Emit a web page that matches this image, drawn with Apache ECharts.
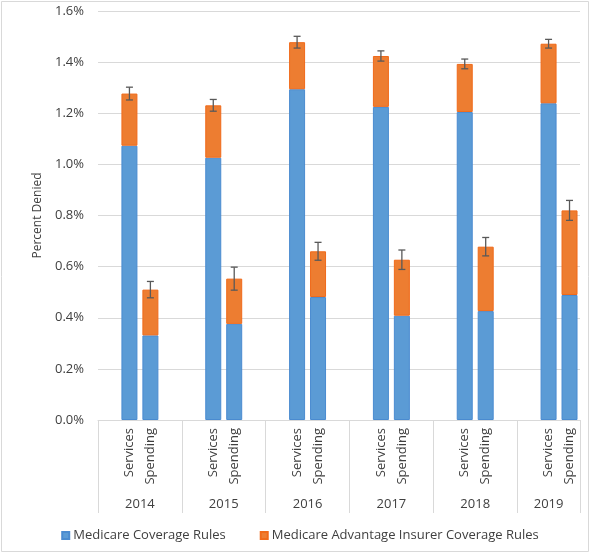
<!DOCTYPE html>
<html>
<head>
<meta charset="utf-8">
<script src="https://cdn.jsdelivr.net/npm/echarts@6/dist/echarts.min.js"></script>
<style>
html,body{margin:0;padding:0;background:#fff;}
#chart{width:600px;height:554px;}
</style>
</head>
<body>
<div id="chart"></div>
<script>
// ---- data (percent) ----
const years = ['2014', '2015', '2016', '2017', '2018', '2019'];
const measures = ['Services', 'Spending'];
const servicesMedicare = [1.073, 1.026, 1.294, 1.225, 1.205, 1.239];
const servicesAdvantage = [0.204, 0.205, 0.184, 0.199, 0.188, 0.233];
const servicesError = [0.025, 0.023, 0.023, 0.020, 0.019, 0.017];
const spendingMedicare = [0.331, 0.376, 0.481, 0.408, 0.426, 0.489];
const spendingAdvantage = [0.179, 0.177, 0.179, 0.219, 0.252, 0.331];
const spendingError = [0.032, 0.045, 0.035, 0.038, 0.036, 0.039];
const yTicks = [0, 0.2, 0.4, 0.6, 0.8, 1.0, 1.2, 1.4, 1.6];
const seriesNames = ['Medicare Coverage Rules', 'Medicare Advantage Insurer Coverage Rules'];

// ---- build slots: each year = blank, Services, Spending, blank (last year without trailing blank) ----
const cats = [], medData = [], advData = [], errData = [], groupStarts = [], groupLens = [];
years.forEach((y, i) => {
  const start = cats.length;
  groupStarts.push(start);
  cats.push(''); medData.push(null); advData.push(null);
  cats.push(measures[0]); medData.push(servicesMedicare[i]); advData.push(servicesAdvantage[i]);
  errData.push([cats.length - 1, servicesMedicare[i] + servicesAdvantage[i] - servicesError[i], servicesMedicare[i] + servicesAdvantage[i] + servicesError[i]]);
  cats.push(measures[1]); medData.push(spendingMedicare[i]); advData.push(spendingAdvantage[i]);
  errData.push([cats.length - 1, spendingMedicare[i] + spendingAdvantage[i] - spendingError[i], spendingMedicare[i] + spendingAdvantage[i] + spendingError[i]]);
  if (i < years.length - 1) { cats.push(''); medData.push(null); advData.push(null); }
  groupLens.push(cats.length - start);
});
// year labels on a half-slot point axis
const yearLabels = new Array(cats.length * 2 + 1).fill('');
years.forEach((y, i) => { yearLabels[(groupStarts[i] * 2) + groupLens[i]] = y; });

const txt = '#404040';
const font = 'Open Sans';
const chart = echarts.init(document.getElementById('chart'), null, {renderer: 'canvas'});
chart.setOption({
  animation: false,
  backgroundColor: '#fff',
  textStyle: {fontFamily: font, color: txt},
  graphic: [{
    type: 'rect', shape: {x: 1.5, y: 1.5, width: 587, height: 550},
    style: {fill: 'none', stroke: '#d9d9d9', lineWidth: 1}, silent: true, z: -1
  }],
  grid: {left: 98, right: 20, top: 11, bottom: 134},
  legend: {
    data: seriesNames, top: 524, left: 'center',
    itemWidth: 7, itemHeight: 7, itemGap: 34, icon: 'rect',
    textStyle: {fontFamily: font, fontSize: 13, color: txt, padding: [0, 0, 0, -1]}
  },
  xAxis: [{
    type: 'category', data: cats, boundaryGap: true,
    axisLine: {show: true, lineStyle: {color: '#d9d9d9', width: 1}},
    axisTick: {show: true, length: 93, lineStyle: {color: '#d9d9d9'},
      interval: (idx) => groupStarts.indexOf(idx) >= 0},
    axisLabel: {interval: 0, rotate: 90, margin: 8, fontSize: 13, color: txt, fontFamily: font}
  }, {
    type: 'category', data: yearLabels, boundaryGap: false, position: 'bottom',
    axisLine: {show: false}, axisTick: {show: false},
    axisLabel: {interval: 0, margin: 78, fontSize: 13, color: txt, fontFamily: font}
  }],
  yAxis: {
    type: 'value', min: yTicks[0], max: yTicks[yTicks.length - 1], interval: 0.2,
    name: 'Percent Denied', nameLocation: 'middle', nameGap: 50, nameRotate: 90,
    nameTextStyle: {fontSize: 12, color: txt, fontFamily: font},
    axisLine: {show: false}, axisTick: {show: false},
    axisLabel: {formatter: v => v.toFixed(1) + '%', fontSize: 13, color: txt, margin: 14, fontFamily: font},
    splitLine: {lineStyle: {color: '#d9d9d9', width: 1}}
  },
  series: [{
    name: seriesNames[0], type: 'bar', stack: 'total', data: medData, barWidth: 16,
    itemStyle: {color: '#5B9BD5', borderColor: '#4A8BD0', borderWidth: 1}
  }, {
    name: seriesNames[1], type: 'bar', stack: 'total', data: advData, barWidth: 16,
    itemStyle: {color: '#ED7D31', borderColor: '#F06A1A', borderWidth: 1}
  }, {
    type: 'custom', name: 'err', data: errData, z: 5,
    encode: {x: 0, y: [1, 2]},
    renderItem: (params, api) => {
      const lo = api.coord([api.value(0), api.value(1)]);
      const hi = api.coord([api.value(0), api.value(2)]);
      const w = 3.5;
      const st = {stroke: '#595959', lineWidth: 1.3};
      return {type: 'group', children: [
        {type: 'line', shape: {x1: lo[0], y1: lo[1], x2: hi[0], y2: hi[1]}, style: st},
        {type: 'line', shape: {x1: lo[0] - w, y1: lo[1], x2: lo[0] + w, y2: lo[1]}, style: st},
        {type: 'line', shape: {x1: hi[0] - w, y1: hi[1], x2: hi[0] + w, y2: hi[1]}, style: st}
      ]};
    }
  }]
});
</script>
</body>
</html>
